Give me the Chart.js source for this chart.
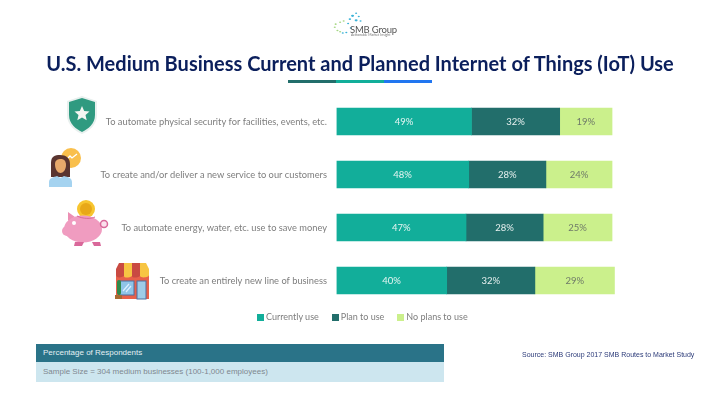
<!DOCTYPE html>
<html>
<head>
<meta charset="utf-8">
<script src="https://cdn.jsdelivr.net/npm/chart.js@4"></script>
<style>
html, body { margin: 0; padding: 0; background: #fff; }
#page { position: relative; width: 720px; height: 405px; overflow: hidden; font-family: Lato, sans-serif; }
#page > * { position: absolute; }
#grafico { left: 0; top: 0; }
#titulo { left: 0; width: 720px; top: 49px; text-align: center; font-size: 20px; line-height: 28px; font-weight: 700; color: #0b1f5c; white-space: nowrap; }
.risco { top: 80px; height: 3px; width: 48px; }
#legenda { left: 257px; top: 311px; height: 12px; display: flex; color: #7d7d7d; font-size: 9px; line-height: 12px; white-space: nowrap; }
#legenda span { display: flex; align-items: center; margin-right: 13px; }
#legenda i { display: block; width: 7px; height: 7px; margin-right: 2px; }
#cabecalho { left: 36px; top: 344px; width: 401px; height: 18px; padding-left: 7px; background: #2a7388; color: #e4f0f3; font: 8px/18px "Liberation Sans", sans-serif; }
#amostra { left: 36px; top: 362px; width: 401px; height: 20px; padding-left: 7px; background: #cde6ef; color: #808890; font: 8px/20px "Liberation Sans", sans-serif; }
#fonte { left: 522px; top: 350px; color: #2b3a78; font: 7px/10px "Liberation Sans", sans-serif; white-space: nowrap; }
#logoTexto { left: 350px; top: 25px; color: #555; font-size: 9.5px; line-height: 10px; letter-spacing: -0.2px; }
#logoSub { left: 351px; top: 33px; color: #777; font-size: 3.5px; line-height: 4px; white-space: nowrap; }
</style>
</head>
<body>
<div id="page">
  <canvas id="grafico" width="720" height="405" style="width:720px;height:405px"></canvas>

  <svg style="left:333px;top:12px" width="32" height="23" viewBox="0 0 36 36" preserveAspectRatio="none">
    <g fill="#3bb3d8">
      <circle cx="26" cy="2" r="1.2"/><circle cx="22" cy="6" r="1.7"/><circle cx="29" cy="7" r="1.2"/><circle cx="19" cy="11" r="1.4"/>
      <circle cx="26" cy="13" r="1.7"/><circle cx="31" cy="14" r="1.2"/><circle cx="17" cy="18" r="1.2"/><circle cx="20" cy="25" r="1.2"/><circle cx="11" cy="33" r="1.2"/><circle cx="15" cy="32" r="1.2"/>
    </g>
    <g fill="#a6d784">
      <circle cx="8" cy="16" r="1.2"/><circle cx="12" cy="14" r="1.2"/><circle cx="3" cy="19" r="1.2"/><circle cx="2" cy="24" r="1.2"/><circle cx="5" cy="29" r="1.2"/><circle cx="8" cy="31" r="1.2"/>
    </g>
  </svg>
  <div id="logoTexto">SMB Group</div>
  <div id="logoSub">Actionable Market Insight</div>

  <div id="titulo">U.S. Medium Business Current and Planned Internet of Things (IoT) Use</div>
  <div class="risco" style="left:288px;background:#226e6b"></div>
  <div class="risco" style="left:336px;background:#12ae9a"></div>
  <div class="risco" style="left:384px;background:#2176f0"></div>

  <!-- escudo -->
  <svg style="left:66px;top:95px" width="32" height="40" viewBox="0 0 32 40">
    <path d="M16 1 L31 6 V20 C31 30 23 36 16 39 C9 36 1 30 1 20 V6 Z" fill="#e8f0ee"/>
    <path d="M16 3 L29 7 V20 C29 29 22 34 16 37 C10 34 3 29 3 20 V7 Z" fill="#2f9a80"/>
    <path d="M16 11 L18.2 16 L23.5 16.5 L19.5 20 L20.7 25.2 L16 22.5 L11.3 25.2 L12.5 20 L8.5 16.5 L13.8 16 Z" fill="#f4f6f2"/>
  </svg>
  <!-- mulher -->
  <svg style="left:48px;top:147px" width="36" height="41" viewBox="0 0 36 41">
    <circle cx="23" cy="11" r="10" fill="#f9bf4c"/>
    <path d="M18 13 L22 9 L24 11 L29 7" stroke="#fff" stroke-width="1.3" fill="none"/>
    <path d="M3 30 V16 C3 9 7 8 12 8 C18 8 22 11 22 17 V30 Z" fill="#5a3530"/>
    <path d="M7 17 C7 13 10 12 13 12 C16 12 18 14 18 18 C18 23 15 26 12.5 26 C10 26 7 23 7 17 Z" fill="#e8a96b"/>
    <path d="M1 40 V35 C1 31 6 30 9 29 L12.5 31 L16 29 C20 30 24 31 24 35 V40 Z" fill="#a5d3f0"/>
  </svg>
  <!-- porquinho -->
  <svg style="left:61px;top:199px" width="50" height="48" viewBox="0 0 50 48">
    <circle cx="25" cy="10" r="9" fill="#f7c52f"/><circle cx="25" cy="10" r="6" fill="#e8a818"/>
    <path d="M7 13 L14 18 L7 22 Z" fill="#ec8fb4"/>
    <ellipse cx="22" cy="30" rx="19" ry="13.5" fill="#f09cc0"/>
    <circle cx="6" cy="32" r="5" fill="#f09cc0"/>
    <path d="M14 43 H23 L21 47 H13 Z M31 43 H39 L40 47 H33 Z" fill="#d9689a"/>
    <circle cx="43" cy="25" r="3.5" fill="#fbe0ec" stroke="#d9689a" stroke-width="1.5"/>
    <circle cx="13" cy="24" r="2" fill="#fff"/>
    <path d="M16 17 C22 20 30 20 34 18" stroke="#d9689a" stroke-width="1" fill="none"/>
  </svg>
  <!-- loja -->
  <svg style="left:115px;top:262px" width="35" height="38" viewBox="0 0 35 38">
    <rect x="1" y="12" width="33" height="25" fill="#e8604a"/>
    <path d="M1 7 L4 1 H9 V14 C6 16 1 16 1 13 Z" fill="#c94a42"/>
    <path d="M9 1 H17 V14 C14 16 9 16 9 14 Z" fill="#f7c543"/>
    <path d="M17 1 H25 V14 C22 16 17 16 17 14 Z" fill="#c94a42"/>
    <path d="M25 1 H31 L34 7 V13 C34 16 25 16 25 14 Z" fill="#f7c543"/>
    <rect x="4" y="19" width="15" height="14" fill="#8fc4e8" stroke="#4d6fa0"/>
    <path d="M8 29 L14 22 M11 30 L16 24" stroke="#dcefff" stroke-width="1.2"/>
    <rect x="22" y="19" width="9" height="18" fill="#9ecbe8" stroke="#4d6fa0"/>
    <rect x="2" y="18" width="4" height="15" rx="2" fill="#2f8a4a"/>
    <rect x="0" y="33" width="7" height="4" fill="#a86a32"/>
  </svg>

  <div id="legenda"></div>
  <div id="cabecalho">Percentage of Respondents</div>
  <div id="amostra">Sample Size = 304 medium businesses (100-1,000 employees)</div>
  <div id="fonte">Source: SMB Group 2017 SMB Routes to Market Study</div>
</div>

<script>
const categorias = [
    'To automate physical security for facilities, events, etc.',
    'To create and/or deliver a new service to our customers',
    'To automate energy, water, etc. use to save money',
    'To create an entirely new line of business'
];
const nomesSeries = ['Currently use', 'Plan to use', 'No plans to use'];
const usoAtual = [49, 48, 47, 40];
const planejaUsar = [32, 28, 28, 32];
const semPlanos = [19, 24, 25, 29];
const coresSeries = ['#12ae9a', '#226e6b', '#cbf08c'];
const coresRotulos = ['#e6f5f2', '#e6f0ef', '#6f7a68'];

// escreve o valor no meio de cada segmento
const rotulosBarras = {
    id: 'rotulosBarras',
    afterDatasetsDraw(chart) {
        const ctx = chart.ctx;
        ctx.save();
        ctx.font = '9.5px Lato';
        ctx.textAlign = 'center';
        ctx.textBaseline = 'middle';
        chart.data.datasets.forEach((ds, i) => {
            ctx.fillStyle = coresRotulos[i];
            chart.getDatasetMeta(i).data.forEach((barra, j) => {
                const p = barra.getProps(['x', 'y', 'base'], true);
                ctx.fillText(ds.data[j] + '%', (p.x + p.base) / 2, p.y);
            });
        });
        ctx.restore();
    }
};

const grafico = new Chart(document.getElementById('grafico').getContext('2d'), {
    type: 'bar',
    data: {
        labels: categorias,
        datasets: [
            { label: nomesSeries[0], data: usoAtual, backgroundColor: coresSeries[0] },
            { label: nomesSeries[1], data: planejaUsar, backgroundColor: coresSeries[1] },
            { label: nomesSeries[2], data: semPlanos, backgroundColor: coresSeries[2] }
        ]
    },
    options: {
        indexAxis: 'y',
        responsive: false,
        animation: false,
        barThickness: 27,
        layout: { padding: { left: 0, right: 105.2, top: 95, bottom: 98 } },
        scales: {
            x: { stacked: true, display: false, min: 0, max: 101 },
            y: {
                stacked: true,
                grid: { display: false, drawTicks: false },
                border: { display: false },
                ticks: { color: '#7d7d7d', padding: 9.5, autoSkip: false, font: { family: 'Lato', size: 9.3 } },
                afterFit(escala) { escala.width = 336.5; }
            }
        },
        plugins: {
            tooltip: { enabled: false },
            legend: { display: false }
        }
    },
    plugins: [rotulosBarras]
});

// legenda montada a partir das series do grafico
const legenda = document.getElementById('legenda');
grafico.data.datasets.forEach(ds => {
    const item = document.createElement('span');
    const caixa = document.createElement('i');
    caixa.style.background = ds.backgroundColor;
    item.appendChild(caixa);
    item.appendChild(document.createTextNode(' ' + ds.label));
    legenda.appendChild(item);
});
</script>
</body>
</html>
